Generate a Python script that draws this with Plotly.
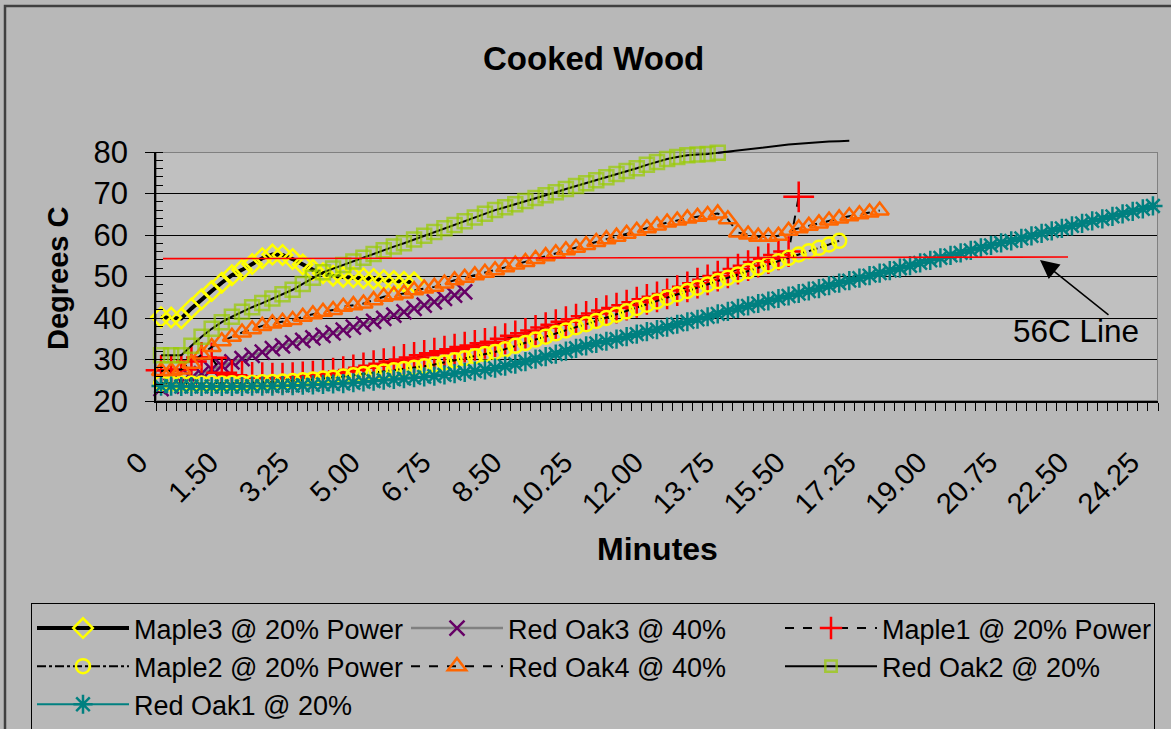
import plotly.graph_objects as go

# ---------------- data ----------------
tick_labels = ["0", "1.50", "3.25", "5.00", "6.75", "8.50", "10.25", "12.00",
               "13.75", "15.50", "17.25", "19.00", "20.75", "22.50", "24.25"]
n_categories = 99
label_step = 7

maple3 = [40.2, 40.1, 39.9, 42.3, 44.5, 46.5, 48.5, 50.3, 51.6, 53.0, 54.4, 55.3, 55.2,
          54.2, 52.9, 51.6, 50.8, 50.2, 49.9, 49.8, 49.6, 49.4, 49.1, 48.9, 48.7, 48.6]

red_oak3 = [23.0, 23.6, 24.4, 25.5, 26.6, 27.6, 28.5, 29.4, 30.2, 31.0, 31.8, 32.6, 33.3,
            34.0, 34.6, 35.2, 35.8, 36.4, 37.1, 37.8, 38.5, 39.2, 39.9, 40.7, 41.5, 42.3,
            43.1, 43.9, 44.7, 45.5, 46.3]

maple1 = [27.4, 27.4, 27.6, 29.5, 30.5, 30.4, 26.8, 26.2, 25.9, 25.7, 25.6, 25.5, 25.5,
          25.6, 25.8, 26.0, 26.3, 26.7, 27.1, 27.5, 28.0, 28.5, 29.0, 29.5, 30.0, 30.5,
          31.0, 31.5, 32.0, 32.5, 33.0, 33.4, 33.9, 34.3, 35.0, 35.7, 36.3, 37.0, 37.7,
          38.4, 39.1, 39.7, 40.4, 41.1, 41.8, 42.4, 43.1, 43.8, 44.5, 45.1, 45.8, 46.6,
          47.5, 48.4, 49.2, 50.1, 50.9, 51.8, 52.6, 53.5, 54.3, 55.2, 56.0, 69.2]

maple2 = [24.3, 24.2, 24.2, 24.2, 24.2, 24.2, 24.2, 24.3, 24.3, 24.4, 24.5, 24.6, 24.7,
          24.8, 25.0, 25.2, 25.4, 25.6, 25.9, 26.2, 26.5, 26.8, 27.1, 27.4, 27.7, 28.0,
          28.4, 28.8, 29.3, 29.8, 30.3, 30.8, 31.3, 31.8, 32.5, 33.3, 34.0, 34.8, 35.5,
          36.3, 37.0, 37.8, 38.5, 39.3, 40.0, 40.8, 41.6, 42.4, 43.2, 44.0, 44.9, 45.7,
          46.5, 47.3, 48.1, 48.9, 49.7, 50.5, 51.3, 52.1, 52.9, 53.7, 54.5, 55.3, 56.1,
          56.9, 57.7, 58.6]

red_oak4 = [27.2, 27.2, 27.6, 29.0, 31.2, 33.0, 34.4, 35.5, 36.5, 37.3, 38.1, 38.7, 39.1,
            39.5, 40.3, 40.9, 41.5, 41.9, 42.7, 43.1, 43.5, 44.3, 45.1, 45.5, 45.9, 46.7,
            47.1, 47.5, 48.3, 49.1, 49.7, 50.3, 50.9, 51.5, 52.2, 52.9, 53.5, 54.2, 54.9,
            55.6, 56.3, 56.9, 57.6, 58.3, 59.0, 59.6, 60.3, 61.0, 61.6, 62.3, 63.0, 63.5,
            64.0, 64.4, 64.8, 65.2, 63.8, 60.6, 60.1, 59.6, 59.6, 59.8, 61.0, 61.6, 62.2,
            62.8, 63.5, 64.0, 64.5, 65.0, 65.4, 65.9]

red_oak2 = [31.0, 31.0, 31.0, 33.3, 35.5, 37.4, 39.0, 40.3, 41.5, 42.6, 43.6, 44.7, 45.7,
            46.8, 48.2, 49.7, 51.0, 51.9, 52.8, 53.6, 54.5, 55.4, 56.3, 57.2, 58.0, 58.9,
            59.8, 60.7, 61.6, 62.4, 63.3, 64.2, 65.1, 66.0, 66.7, 67.4, 68.2, 68.9, 69.6,
            70.3, 71.1, 71.8, 72.5, 73.2, 73.9, 74.7, 75.4, 76.1, 76.9, 77.6, 78.3, 78.8,
            79.2, 79.4, 79.5, 79.8, 80.1, 80.3, 80.7, 81.0, 81.3, 81.6, 81.8, 82.0, 82.2,
            82.3, 82.5, 82.6, 82.7]

red_oak1 = [23.6, 23.6, 23.5, 23.5, 23.5, 23.5, 23.5, 23.5, 23.5, 23.6, 23.6, 23.6, 23.7,
            23.7, 23.8, 23.9, 24.0, 24.1, 24.2, 24.4, 24.6, 24.8, 25.0, 25.2, 25.4, 25.6,
            25.8, 26.0, 26.3, 26.6, 26.9, 27.2, 27.5, 27.9, 28.4, 28.9, 29.5, 30.1, 30.7,
            31.3, 32.0, 32.7, 33.3, 33.9, 34.4, 34.9, 35.5, 36.1, 36.7, 37.2, 37.8, 38.5,
            39.1, 39.7, 40.3, 41.0, 41.6, 42.3, 42.9, 43.5, 44.1, 44.7, 45.3, 45.9, 46.5,
            47.1, 47.8, 48.4, 49.0, 49.6, 50.2, 50.8, 51.4, 52.0, 52.6, 53.3, 53.9, 54.5,
            55.1, 55.7, 56.3, 56.9, 57.5, 58.1, 58.6, 59.2, 59.8, 60.4, 61.0, 61.6, 62.2,
            62.8, 63.4, 63.9, 64.5, 65.1, 65.7, 66.3, 67.0]

line56_label = "56C Line"
line56_level = (54.3, 54.7)   # drawn reference line (start, end)

y_min, y_max = 20, 80

# ---------------- layout geometry ----------------
W, H = 1171, 729
PL, PR, PT, PB = 156, 1158, 152, 401
EXTRA = 32
TOPM = PT - EXTRA
AREA_H = PB - TOPM
MAIN_TOP = (PB - PT) / AREA_H
y2_max = y_min + (y_max - y_min) / MAIN_TOP


def xp(p):
    return (p - PL) / (PR - PL)


def yp(p):
    return (PB - p) / AREA_H


FONT = "Liberation Sans, Arial, sans-serif"


def idx(vals):
    return list(range(len(vals)))


fig = go.Figure()


def add(vals, name, line, symbol, mcolor, msize, **kw):
    fig.add_trace(go.Scatter(
        x=idx(vals), y=vals, name=name, mode="lines+markers", line=line,
        marker=dict(symbol=symbol, size=msize, color=mcolor,
                    line=dict(color=mcolor, width=2.5)),
        cliponaxis=False, hoverinfo="skip", **kw))


add(maple3, "Maple3 @ 20% Power", dict(color="black", width=4), "diamond-open", "#FFFF00", 15)
add(red_oak3, "Red Oak3 @ 40%", dict(color="#808080", width=2.5), "x-thin-open", "#660066", 15)
add(maple1, "Maple1 @ 20% Power", dict(color="black", width=2, dash="dash"), "cross-thin-open", "#FF0000", 22)
add(maple2, "Maple2 @ 20% Power", dict(color="black", width=2, dash="dashdot"), "circle-open", "#FFFF00", 14)
add(red_oak4, "Red Oak4 @ 40%", dict(color="black", width=2, dash="dash"), "triangle-up-open", "#FF6600", 16)
# markers above the axis maximum are not drawn (as in the original chart)
ro2_sizes = [14 if v <= y_max else 0 for v in red_oak2]
add(red_oak2, "Red Oak2 @ 20%", dict(color="black", width=2), "square-open", "#99CC00", ro2_sizes)
# continuation of the Red Oak2 line beyond the top of the axis
first_over = next(i for i, v in enumerate(red_oak2) if v > y_max)
ro2_tail = [v if i >= first_over - 1 else None for i, v in enumerate(red_oak2)]
fig.add_trace(go.Scatter(x=idx(red_oak2), y=ro2_tail, mode="lines", xaxis="x2", yaxis="y2",
                         line=dict(color="black", width=2), showlegend=False, hoverinfo="skip"))
add(red_oak1, "Red Oak1 @ 20%", dict(color="#008080", width=2), "asterisk-open", "#008080", 16)

tickvals = [k * label_step for k in range(len(tick_labels))]

fig.update_layout(
    width=W, height=H,
    margin=dict(l=PL, r=W - PR, t=TOPM, b=H - PB, pad=0, autoexpand=False),
    paper_bgcolor="#B8B8B8",
    plot_bgcolor="rgba(0,0,0,0)",
    font=dict(family=FONT, color="black"),
    xaxis=dict(domain=[0, 1], anchor="y", range=[-0.5, n_categories - 0.5], automargin=False,
               tickmode="array", tickvals=tickvals, ticktext=tick_labels,
               ticks="", tickangle=-45, tickfont=dict(size=29, family=FONT),
               ticklabelstandoff=31, ticklabelshift=-22,
               showgrid=False, zeroline=False, showline=True, linecolor="black", linewidth=1.5,
               minor=dict(tickmode="linear", tick0=-0.5, dtick=1, ticks="outside",
                          ticklen=8, tickcolor="black", tickwidth=1, showgrid=False)),
    yaxis=dict(domain=[0, MAIN_TOP], anchor="x", range=[y_min, y_max], automargin=False,
               tickmode="linear", tick0=20, dtick=10, ticks="outside", ticklen=9,
               tickcolor="black", tickwidth=1, tickfont=dict(size=31, family=FONT),
               ticklabelstandoff=11,
               showgrid=True, gridcolor="black", gridwidth=1, zeroline=False,
               showline=True, linecolor="black", linewidth=1.5,
               minor=dict(dtick=2, ticks="inside", ticklen=7, tickcolor="black",
                          tickwidth=1, showgrid=False)),
    xaxis2=dict(domain=[0, 1], anchor="y2", range=[-0.5, n_categories - 0.5], visible=False,
                automargin=False),
    yaxis2=dict(domain=[0, 1], anchor="x2", range=[y_min, y2_max], visible=False,
                automargin=False),
    showlegend=True,
    legend=dict(orientation="h", x=xp(31), y=yp(603), xanchor="left", yanchor="top",
                bgcolor="rgba(0,0,0,0)", bordercolor="black", borderwidth=1,
                font=dict(size=27, family=FONT), entrywidth=267, itemwidth=92,
                traceorder="normal"),
)

shapes = [
    # chart border
    dict(type="rect", xref="paper", yref="paper", x0=xp(5), x1=xp(1190), y0=yp(760), y1=yp(6),
         line=dict(color="#404040", width=2.5), fillcolor="rgba(0,0,0,0)", layer="below"),
    # plot area
    dict(type="rect", xref="paper", yref="paper", x0=0, x1=1, y0=0, y1=MAIN_TOP,
         line=dict(width=0), fillcolor="#C0C0C0", layer="below"),
    dict(type="rect", xref="x", yref="y", x0=-0.5, x1=n_categories - 0.5, y0=y_min, y1=y_max,
         line=dict(color="#808080", width=2), fillcolor="rgba(0,0,0,0)", layer="between"),
    # drawn 56C reference line
    dict(type="line", xref="paper", yref="y", x0=xp(163), x1=xp(1068),
         y0=line56_level[0], y1=line56_level[1], line=dict(color="#FF0000", width=1.6),
         layer="above"),
]
fig.update_layout(shapes=shapes)

annotations = [
    dict(text="<b>Cooked Wood</b>", xref="paper", yref="paper", x=xp(593), y=yp(58),
         showarrow=False, font=dict(size=33, family=FONT), xanchor="center", yanchor="middle"),
    dict(text="<b>Degrees C</b>", xref="paper", yref="paper", x=xp(58), y=yp(278),
         showarrow=False, textangle=-90, font=dict(size=29, family=FONT),
         xanchor="center", yanchor="middle"),
    dict(text="<b>Minutes</b>", xref="paper", yref="paper", x=xp(657), y=yp(549),
         showarrow=False, font=dict(size=32, family=FONT), xanchor="center", yanchor="middle"),
    dict(text=line56_label, xref="paper", yref="paper", x=xp(1076), y=yp(331),
         showarrow=False, font=dict(size=31.5, family=FONT), xanchor="center", yanchor="middle"),
    dict(text="", xref="paper", yref="paper", x=xp(1040), y=yp(260), ax=70, ay=56,
         showarrow=True, arrowhead=2, arrowsize=2.5, arrowwidth=1.5, arrowcolor="black"),
]
fig.update_layout(annotations=annotations)

fig.write_html("out.html", config={"displayModeBar": False},
               post_script="document.body.style.margin='0px';document.body.style.padding='0px';")
